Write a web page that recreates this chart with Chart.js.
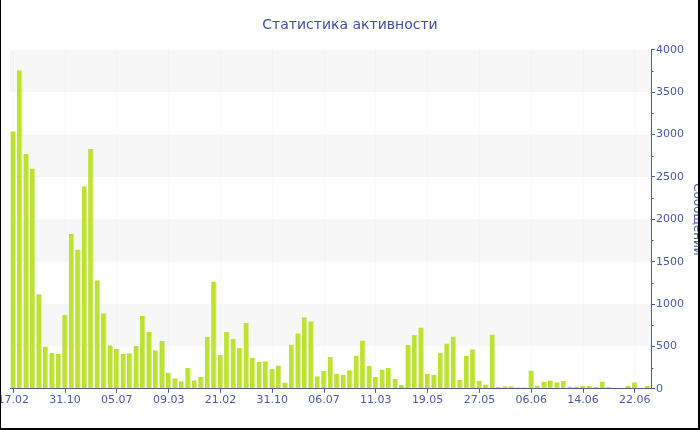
<!DOCTYPE html>
<html><head><meta charset="utf-8">
<script src="https://cdn.jsdelivr.net/npm/chart.js@4"></script>
<style>
html,body{margin:0;padding:0;background:#fff;}
#wrap{position:relative;width:700px;height:430px;overflow:hidden;background:#fff;}
#c{position:absolute;left:0;top:0;}
.b{position:absolute;background:#000;}
</style></head><body>
<div id="wrap">
<canvas id="c" width="700" height="430"></canvas>
<div class="b" style="left:0;top:0;width:1px;height:430px"></div>
<div class="b" style="left:698px;top:0;width:2px;height:430px"></div>
<div class="b" style="left:0;top:428px;width:700px;height:2px"></div>
</div>
<script>
const tickLabels = ['17.02','31.10','05.07','09.03','21.02','31.10','06.07','11.03','19.05','27.05','06.06','14.06','22.06'];
const counts = [
  3040, 3760, 2770, 2600, 1115, 500, 425, 410,
  875, 1830, 1645, 2390, 2830, 1280, 890, 515,
  470, 410, 420, 505, 860, 670, 455, 565,
  190, 125, 90, 245, 100, 140, 610, 1265,
  400, 670, 590, 480, 775, 362, 315, 324,
  235, 275, 73, 522, 655, 843, 796, 147,
  212, 374, 180, 167, 220, 394, 569, 269,
  139, 229, 249, 118, 45, 520, 635, 722,
  176, 165, 424, 535, 616, 108, 390, 468,
  95, 51, 640, 20, 31, 31, 18, 18,
  216, 39, 86, 98, 78, 94, 27, 27,
  35, 35, 27, 86, 20, 12, 12, 35,
  78, 12, 35
];
const labelEvery = 8;
const categories = counts.map((_, i) => i % labelEvery === 0 ? tickLabels[i / labelEvery] : '');
const yMin = 0, yMax = 4000, yStep = 500;

const BLUE = '#4a5aa6';
const FONT = 'DejaVu Sans';

const bands = {
  id: 'bands',
  beforeDraw(chart) {
    const {ctx, chartArea: a, scales: {y}} = chart;
    ctx.save();
    ctx.fillStyle = '#f7f7f7';
    for (let v = yStep; v < yMax; v += 2 * yStep) {
      const t = y.getPixelForValue(v + yStep), b = y.getPixelForValue(v);
      ctx.fillRect(a.left, t, a.right - a.left, b - t);
    }
    ctx.restore();
  }
};
const minorTicks = {
  id: 'minorTicks',
  afterDraw(chart) {
    const {ctx, chartArea: a, scales: {y}} = chart;
    ctx.save();
    ctx.strokeStyle = BLUE;
    ctx.lineWidth = 1;
    for (let v = yStep / 2; v < yMax; v += yStep) {
      const p = Math.round(y.getPixelForValue(v)) + 0.5;
      ctx.beginPath();
      ctx.moveTo(a.right, p);
      ctx.lineTo(a.right + 2.5, p);
      ctx.stroke();
    }
    ctx.restore();
  }
};

new Chart(document.getElementById('c'), {
  type: 'bar',
  data: {
    labels: categories,
    datasets: [{
      data: counts,
      backgroundColor: '#bde22f',
      borderColor: '#dcef96',
      borderWidth: {top: 0, left: 0, bottom: 0, right: 1},
      borderSkipped: 'start',
      barPercentage: 0.87,
      categoryPercentage: 1
    }]
  },
  options: {
    responsive: false,
    devicePixelRatio: 1,
    animation: false,
    layout: {padding: {left: 0, right: 0, top: 0, bottom: 22}},
    plugins: {
      legend: {display: false},
      tooltip: {enabled: false},
      title: {
        display: true,
        text: 'Статистика активности',
        color: '#3f4f9f',
        font: {family: FONT, size: 14, weight: 'normal'},
        padding: {top: 17, bottom: 16}
      }
    },
    scales: {
      x: {
        grid: {
          offset: false,
          color: c => c.index % labelEvery === 0 ? 'rgba(0,0,0,0.02)' : 'rgba(0,0,0,0)',
          tickColor: c => c.index % labelEvery === 0 ? BLUE : 'rgba(0,0,0,0)',
          tickLength: 4
        },
        border: {color: BLUE},
        ticks: {autoSkip: false, maxRotation: 0, minRotation: 0, padding: 1, color: BLUE, font: {family: FONT, size: 11}},
        afterFit(s) { s.paddingLeft = 10; s.paddingRight = 0; }
      },
      y: {
        position: 'right',
        min: yMin, max: yMax,
        ticks: {stepSize: yStep, padding: 1, color: BLUE, font: {family: FONT, size: 11}, callback: v => String(v)},
        grid: {drawOnChartArea: false, tickLength: 4, tickColor: BLUE},
        border: {color: BLUE},
        title: {display: true, text: 'Сообщений', color: BLUE, font: {family: FONT, size: 12}, padding: {top: -4, bottom: 0}},
        afterFit(s) { s.width = 49; }
      }
    }
  },
  plugins: [bands, minorTicks]
});
</script>
</body></html>
